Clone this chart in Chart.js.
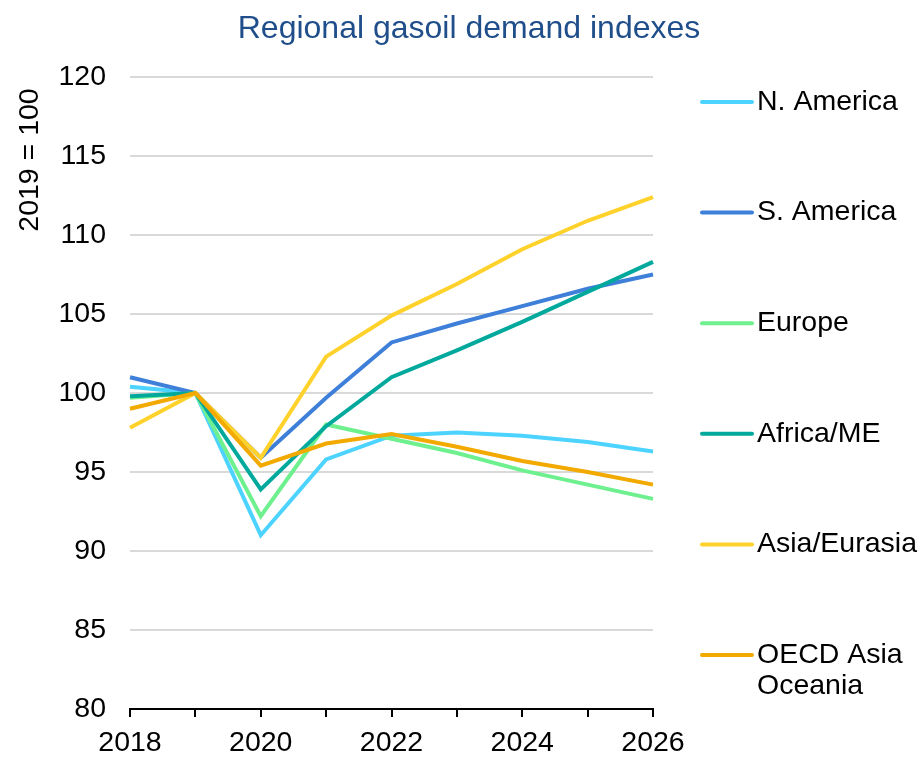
<!DOCTYPE html>
<html>
<head>
<meta charset="utf-8">
<script src="https://cdn.jsdelivr.net/npm/chart.js@4.4.1/dist/chart.umd.min.js"></script>
<style>
  html, body { margin: 0; padding: 0; background: #fff; }
  #wrap { width: 921px; height: 759px; position: relative; }
</style>
</head>
<body>
<div id="wrap"><canvas id="chart" width="921" height="759"></canvas></div>
<script>
const years = ['2018', '2019', '2020', '2021', '2022', '2023', '2024', '2025', '2026'];

const nAmerica = [100.4, 100, 91.0, 95.8, 97.3, 97.5, 97.3, 96.9, 96.3];
const sAmerica = [101.0, 100, 95.9, 99.7, 103.2, 104.4, 105.5, 106.6, 107.5];
const europe = [99.7, 100, 92.2, 98.0, 97.1, 96.2, 95.1, 94.2, 93.3];
const africaME = [99.8, 100, 93.9, 97.9, 101.0, 102.7, 104.5, 106.4, 108.3];
const asiaEurasia = [97.8, 100, 95.9, 102.3, 104.9, 106.9, 109.1, 110.9, 112.4];
const oecdAsia = [99.0, 100, 95.4, 96.8, 97.4, 96.6, 95.7, 95.0, 94.2];

const seriesNames = ['N. America', 'S. America', 'Europe', 'Africa/ME', 'Asia/Eurasia', 'OECD Asia\nOceania'];
const seriesColors = ['#4cd3ff', '#3d7fd9', '#6ef08f', '#00a99c', '#ffd22b', '#f2a900'];
const seriesData = [nAmerica, sAmerica, europe, africaME, asiaEurasia, oecdAsia];

const yTicks = [80, 85, 90, 95, 100, 105, 110, 115, 120];

const FONT = "'Liberation Sans', Arial, sans-serif";

// title, y title and the legend on the right
const extras = {
  id: 'extras',
  afterDraw(chart) {
    const ctx = chart.ctx;
    ctx.save();
    ctx.fillStyle = '#1f4e8a';
    ctx.font = '32px ' + FONT;
    ctx.textAlign = 'center';
    ctx.textBaseline = 'alphabetic';
    ctx.fillText('Regional gasoil demand indexes', 469, 38);

    ctx.fillStyle = '#000';
    ctx.font = '28.5px ' + FONT;
    ctx.translate(30, 160);
    ctx.rotate(-Math.PI / 2);
    ctx.textBaseline = 'middle';
    ctx.fillText('2019 = 100', 0, 0);
    ctx.restore();

    ctx.save();
    ctx.font = '28.5px ' + FONT;
    ctx.textBaseline = 'middle';
    ctx.textAlign = 'left';
    chart.data.datasets.forEach((ds, i) => {
      const y = 102 + i * 110.6;
      ctx.strokeStyle = ds.borderColor;
      ctx.lineWidth = 4;
      ctx.lineCap = 'round';
      ctx.beginPath();
      ctx.moveTo(702, y);
      ctx.lineTo(752, y);
      ctx.stroke();
      ctx.fillStyle = '#000';
      ds.label.split('\n').forEach((line, j) => {
        ctx.fillText(line, 757, y + j * 31);
      });
    });
    ctx.restore();
  }
};

new Chart(document.getElementById('chart'), {
  type: 'line',
  data: {
    labels: years,
    datasets: seriesData.map((vals, i) => ({
      label: seriesNames[i],
      data: vals,
      borderColor: seriesColors[i],
      backgroundColor: seriesColors[i],
      borderWidth: 4,
      pointRadius: 0,
      tension: 0,
      order: seriesData.length - i
    }))
  },
  options: {
    responsive: false,
    animation: false,
    layout: { padding: { top: 77, right: 268, bottom: 0, left: 0 } },
    plugins: {
      legend: { display: false },
      title: { display: false },
      tooltip: { enabled: false }
    },
    scales: {
      x: {
        offset: false,
        afterFit: (scale) => { scale.height = 50; },
        grid: {
          drawOnChartArea: false,
          drawTicks: true,
          tickLength: 8,
          color: '#000',
          lineWidth: 2
        },
        border: { display: true, color: '#000', width: 2 },
        ticks: {
          color: '#000',
          font: { size: 28.5, family: FONT },
          padding: 9,
          maxRotation: 0,
          autoSkip: false,
          callback: function (v) {
            const lbl = this.getLabelForValue(v);
            return Number(lbl) % 2 === 0 ? lbl : '';
          }
        }
      },
      y: {
        min: yTicks[0],
        max: yTicks[yTicks.length - 1],
        afterFit: (scale) => { scale.width = 130; },
        afterBuildTicks: (scale) => { scale.ticks = yTicks.map(v => ({ value: v })); },
        grid: {
          color: '#d9d9d9',
          lineWidth: 2,
          drawTicks: false
        },
        border: { display: false },
        ticks: {
          color: '#000',
          font: { size: 28.5, family: FONT },
          padding: 24
        }
      }
    }
  },
  plugins: [extras]
});
</script>
</body>
</html>
